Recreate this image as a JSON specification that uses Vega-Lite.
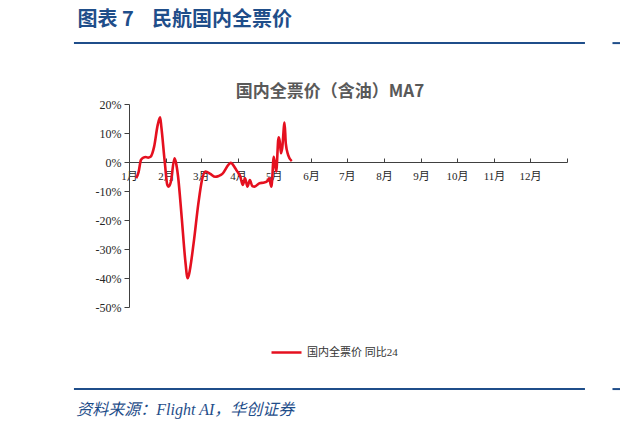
{
  "$schema": "https://vega.github.io/schema/vega-lite/v6.json",
  "width": 438,
  "height": 203,
  "autosize": {"type": "none"},
  "padding": {"left": 129, "top": 104, "right": 53, "bottom": 122},
  "background": "white",
  "config": {"view": {"stroke": null}, "font": "Liberation Serif", "axis": {"labelOverlap": false}},
  "datasets": {
    "fare": [
      {"date": "2024-01-07", "value": -5.6},
      {"date": "2024-01-09", "value": -3.5},
      {"date": "2024-01-11", "value": 0.7},
      {"date": "2024-01-13", "value": 1.5},
      {"date": "2024-01-15", "value": 1.7},
      {"date": "2024-01-17", "value": 1.5},
      {"date": "2024-01-19", "value": 1.8},
      {"date": "2024-01-22", "value": 5.3},
      {"date": "2024-01-25", "value": 12.8},
      {"date": "2024-01-27", "value": 15.4},
      {"date": "2024-01-28", "value": 12.2},
      {"date": "2024-01-31", "value": -0.5},
      {"date": "2024-02-02", "value": -7.9},
      {"date": "2024-02-03", "value": -8.5},
      {"date": "2024-02-05", "value": -6.8},
      {"date": "2024-02-08", "value": 1.3},
      {"date": "2024-02-09", "value": 0.2},
      {"date": "2024-02-11", "value": -5},
      {"date": "2024-02-14", "value": -18.9},
      {"date": "2024-02-17", "value": -33.8},
      {"date": "2024-02-19", "value": -40.1},
      {"date": "2024-02-20", "value": -39},
      {"date": "2024-02-24", "value": -28},
      {"date": "2024-02-28", "value": -14.2},
      {"date": "2024-03-02", "value": -6.2},
      {"date": "2024-03-05", "value": -3.3},
      {"date": "2024-03-09", "value": -4.1},
      {"date": "2024-03-13", "value": -5.1},
      {"date": "2024-03-16", "value": -4.8},
      {"date": "2024-03-19", "value": -4.1},
      {"date": "2024-03-24", "value": -1},
      {"date": "2024-03-26", "value": -0.3},
      {"date": "2024-03-29", "value": -1.6},
      {"date": "2024-03-31", "value": -3},
      {"date": "2024-04-03", "value": -5},
      {"date": "2024-04-05", "value": -7.9},
      {"date": "2024-04-07", "value": -5.6},
      {"date": "2024-04-09", "value": -8.5},
      {"date": "2024-04-11", "value": -6.2},
      {"date": "2024-04-13", "value": -8.3},
      {"date": "2024-04-15", "value": -8.5},
      {"date": "2024-04-19", "value": -7.3},
      {"date": "2024-04-23", "value": -7.1},
      {"date": "2024-04-26", "value": -6.4},
      {"date": "2024-04-27", "value": -5.6},
      {"date": "2024-04-29", "value": -8.5},
      {"date": "2024-05-01", "value": 1.8},
      {"date": "2024-05-03", "value": -3.3},
      {"date": "2024-05-05", "value": 8.5},
      {"date": "2024-05-06", "value": 7},
      {"date": "2024-05-07", "value": 3},
      {"date": "2024-05-08", "value": 4.7},
      {"date": "2024-05-10", "value": 13.6},
      {"date": "2024-05-11", "value": 6.4},
      {"date": "2024-05-13", "value": 2.4},
      {"date": "2024-05-16", "value": 0.3}
    ],
    "texts": [
      {"header": "图表\u00a07\u00a0\u00a0\u00a0\u00a0民航国内全票价", "chartTitle": "国内全票价（含油）MA7", "source": "资料来源：Flight AI，华创证券"}
    ]
  },
  "layer": [
    {
      "data": {"name": "fare"},
      "mark": {"type": "line", "interpolate": "monotone", "strokeWidth": 2.6, "clip": false},
      "encoding": {
        "x": {
          "field": "date",
          "type": "temporal",
          "scale": {
            "type": "utc",
            "domain": [
              {"year": 2024, "month": 1, "date": 1, "utc": true},
              {"year": 2025, "month": 1, "date": 1, "utc": true}
            ],
            "nice": false
          },
          "axis": {
            "title": null,
            "offset": -145,
            "tickCount": {"interval": "month", "step": 1},
            "labelExpr": "utcyear(datum.value) == 2025 ? '' : (utcmonth(datum.value) + 1) + '月'",
            "labelFont": "Liberation Serif, Noto Sans CJK SC",
            "labelFontSize": 11,
            "labelColor": "#262626",
            "labelAlign": "center",
            "labelPadding": 12,
            "labelFlush": false,
            "labelOverlap": false,
            "tickSize": -4,
            "tickColor": "#404040",
            "domainColor": "#404040",
            "grid": false
          }
        },
        "y": {
          "field": "value",
          "type": "quantitative",
          "scale": {"domain": [-50, 20], "nice": false, "zero": false},
          "axis": {
            "title": null,
            "tickCount": 7,
            "labelExpr": "datum.value + '%'",
            "labelFont": "Liberation Serif",
            "labelFontSize": 12,
            "labelColor": "#262626",
            "labelPadding": 3,
            "labelOverlap": false,
            "tickSize": 5,
            "tickColor": "#404040",
            "domainColor": "#404040",
            "grid": false
          }
        },
        "color": {
          "datum": "国内全票价 同比24",
          "scale": {"range": ["#E5101F"]},
          "legend": {
            "title": null,
            "orient": "none",
            "legendX": 141,
            "legendY": 232,
            "symbolType": "stroke",
            "symbolSize": 900,
            "symbolStrokeWidth": 2.5,
            "labelFont": "Liberation Serif, Noto Sans CJK SC",
            "labelFontSize": 11,
            "labelColor": "#333333"
          }
        }
      }
    },
    {
      "data": {"name": "texts"},
      "mark": {"type": "text", "font": "Noto Sans CJK SC", "fontSize": 17, "fontWeight": "bold", "color": "#595959", "align": "center", "baseline": "middle", "clip": false},
      "encoding": {
        "text": {"field": "chartTitle"},
        "x": {"datum": {"year": 2024, "month": 6, "date": 17, "utc": true}, "type": "temporal"},
        "y": {"datum": 24.1}
      }
    },
    {
      "data": {"name": "texts"},
      "mark": {"type": "text", "font": "Noto Sans CJK SC", "fontSize": 20, "fontWeight": "bold", "color": "#1F4E8A", "align": "left", "baseline": "middle", "clip": false},
      "encoding": {
        "text": {"field": "header"},
        "x": {"datum": {"year": 2023, "month": 11, "date": 19, "utc": true}, "type": "temporal"},
        "y": {"datum": 49.0}
      }
    },
    {
      "data": {"name": "texts"},
      "mark": {"type": "text", "font": "Liberation Serif, Noto Sans CJK SC", "fontSize": 16, "fontStyle": "italic", "color": "#1F4E8A", "align": "left", "baseline": "middle", "clip": false},
      "encoding": {
        "text": {"field": "source"},
        "x": {"datum": {"year": 2023, "month": 11, "date": 18, "utc": true}, "type": "temporal"},
        "y": {"datum": -85.5}
      }
    },
    {
      "data": {"values": [{}]},
      "mark": {"type": "rule", "color": "#1F4E8A", "strokeWidth": 2, "clip": false},
      "encoding": {
        "x": {"datum": {"year": 2023, "month": 11, "date": 16, "utc": true}, "type": "temporal"},
        "x2": {"datum": {"year": 2025, "month": 1, "date": 16, "utc": true}},
        "y": {"datum": 41.0}
      }
    },
    {
      "data": {"values": [{}]},
      "mark": {"type": "rule", "color": "#1F4E8A", "strokeWidth": 2, "clip": false},
      "encoding": {
        "x": {"datum": {"year": 2023, "month": 11, "date": 16, "utc": true}, "type": "temporal"},
        "x2": {"datum": {"year": 2025, "month": 1, "date": 16, "utc": true}},
        "y": {"datum": -78.3}
      }
    },
    {
      "data": {"values": [{}]},
      "mark": {"type": "rule", "color": "#1F4E8A", "strokeWidth": 2, "clip": false},
      "encoding": {
        "x": {"datum": {"year": 2025, "month": 2, "date": 8, "utc": true}, "type": "temporal"},
        "x2": {"datum": {"year": 2025, "month": 2, "date": 16, "utc": true}},
        "y": {"datum": 41.0}
      }
    },
    {
      "data": {"values": [{}]},
      "mark": {"type": "rule", "color": "#1F4E8A", "strokeWidth": 2, "clip": false},
      "encoding": {
        "x": {"datum": {"year": 2025, "month": 2, "date": 8, "utc": true}, "type": "temporal"},
        "x2": {"datum": {"year": 2025, "month": 2, "date": 16, "utc": true}},
        "y": {"datum": -78.3}
      }
    }
  ]
}
